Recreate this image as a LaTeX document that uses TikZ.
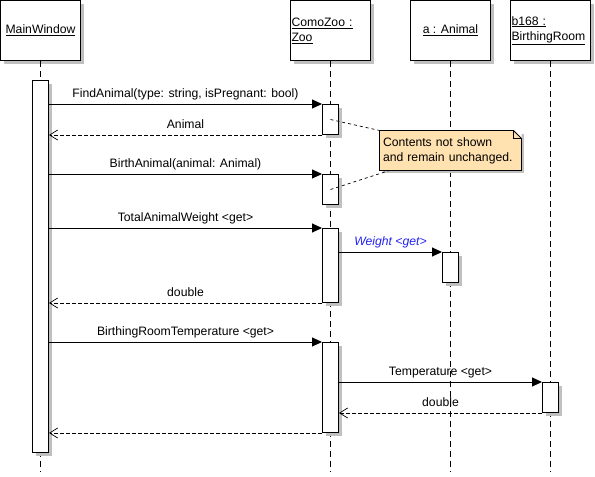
\documentclass[tikz,border=0pt]{standalone}
\usepackage{fontspec}
\setmainfont{Liberation Sans}
\usetikzlibrary{arrows.meta,calc,shadows}
\definecolor{Shade}{HTML}{C0C0C0}
\definecolor{NoteFill}{HTML}{FFE2B0}
\definecolor{GetBlue}{HTML}{2222F0}

\begin{document}
\begin{tikzpicture}[x=1pt,y=-1pt,font=\fontsize{12.2}{15}\selectfont,line width=1pt,
      obj/.style={draw,fill=white,minimum width=80pt,minimum height=60pt,
                  inner sep=1pt,
                  drop shadow={shadow xshift=3pt,shadow yshift=-3pt,fill=Shade,opacity=1}},
      act/.style={draw,fill=white,anchor=north,minimum width=16pt,inner sep=0pt,
                  drop shadow={shadow xshift=3pt,shadow yshift=-3pt,fill=Shade,opacity=1}},
      life/.style={dash pattern=on 6pt off 4pt},
      call/.style={-{Triangle[length=10pt,width=9pt]}},
      reply/.style={dash pattern=on 4pt off 2pt,
                    -{Straight Barb[length=8pt,width=10pt,line width=0.7pt]}},
      msg/.style={above,inner sep=3pt,text height=9pt,text depth=3pt},
      link/.style={dash pattern=on 3pt off 3pt,line width=0.7pt},
      note/.style={fill=NoteFill,text width=135pt,align=left,inner xsep=3pt,
                   inner ysep=2pt,minimum height=39pt,
                   drop shadow={shadow xshift=3pt,shadow yshift=-3pt,fill=Shade,opacity=1}}]
    \useasboundingbox (0,0) rectangle (595,477);
    \node[obj] (mw) at (40.5,30.5) {\underline{MainWindow}};
    \node[obj,text width=78pt,align=left] (zoo) at (330.5,30.5)
      {\underline{ComoZoo :}\\\underline{Zoo}};
    \node[obj] (ani) at (450.5,30.5) {\underline{a : Animal}};
    \node[obj,text width=78pt,align=left] (room) at (550.5,30.5)
      {\underline{b168 :}\\\underline{BirthingRoom}};
    \coordinate (mwEnd) at (40.5,472);
    \coordinate (zooEnd) at (330.5,472);
    \coordinate (aniEnd) at (450.5,472);
    \coordinate (roomEnd) at (550.5,472);
    \draw[life] (mw.south) -- (mwEnd);
    \draw[life] (zoo.south) -- (zooEnd);
    \draw[life] (ani.south) -- (aniEnd);
    \draw[life] (room.south) -- (roomEnd);
    \node[act,minimum height=372pt] (mwA) at (40.5,80) {};
    \node[act,minimum height=30pt] (zA1) at (330.5,104) {};
    \node[act,minimum height=30pt] (zA2) at (330.5,174) {};
    \node[act,minimum height=74pt] (zA3) at (330.5,228) {};
    \node[act,minimum height=30pt] (aA) at (450.5,252) {};
    \node[act,minimum height=90pt] (zA4) at (330.5,342) {};
    \node[act,minimum height=30pt] (bA) at (550.5,382) {};
    \draw[call] (mwA.east |- zA1.north) --
      node[msg] {FindAnimal(type: string, isPregnant: bool)} (zA1.north west);
    \draw[reply] (zA1.south west) -- node[msg] {Animal} (mwA.east |- zA1.south);
    \draw[call] (mwA.east |- zA2.north) --
      node[msg] {BirthAnimal(animal: Animal)} (zA2.north west);
    \draw[call] (mwA.east |- zA3.north) --
      node[msg] {TotalAnimalWeight <get>} (zA3.north west);
    \draw[call] (zA3.east |- aA.north) --
      node[msg,text=GetBlue] {\itshape Weight <get>} (aA.north west);
    \draw[reply] (zA3.south west) -- node[msg] {double} (mwA.east |- zA3.south);
    \draw[call] (mwA.east |- zA4.north) --
      node[msg] {BirthingRoomTemperature <get>} (zA4.north west);
    \draw[call] (zA4.east |- bA.north) --
      node[msg] {Temperature <get>} (bA.north west);
    \draw[reply] (bA.south west) -- node[msg] {double} (zA4.east |- bA.south);
    \draw[reply] (zA4.south west) -- (mwA.east |- zA4.south);
    \node[note] (note) at (450.5,150.5) {Contents not shown\\and remain unchanged.};
    \fill[white] ($(note.north east)+(-8,0)$) -- (note.north east)
      -- ($(note.north east)+(0,8)$) -- cycle;
    \draw[line width=0.8pt] (note.north west) -- ($(note.north east)+(-8,0)$)
      -- ($(note.north east)+(0,8)$) -- (note.south east) -- (note.south west) -- cycle;
    \draw[line width=0.8pt] ($(note.north east)+(-8,0)$) -- ($(note.north east)+(-8,8)$)
      -- ($(note.north east)+(0,8)$);
    \draw[link] (zA1.center) -- (note.north west);
    \draw[link] (zA2.center) -- ($(note.south west)+(10,0)$);
  \end{tikzpicture}
\end{document}
